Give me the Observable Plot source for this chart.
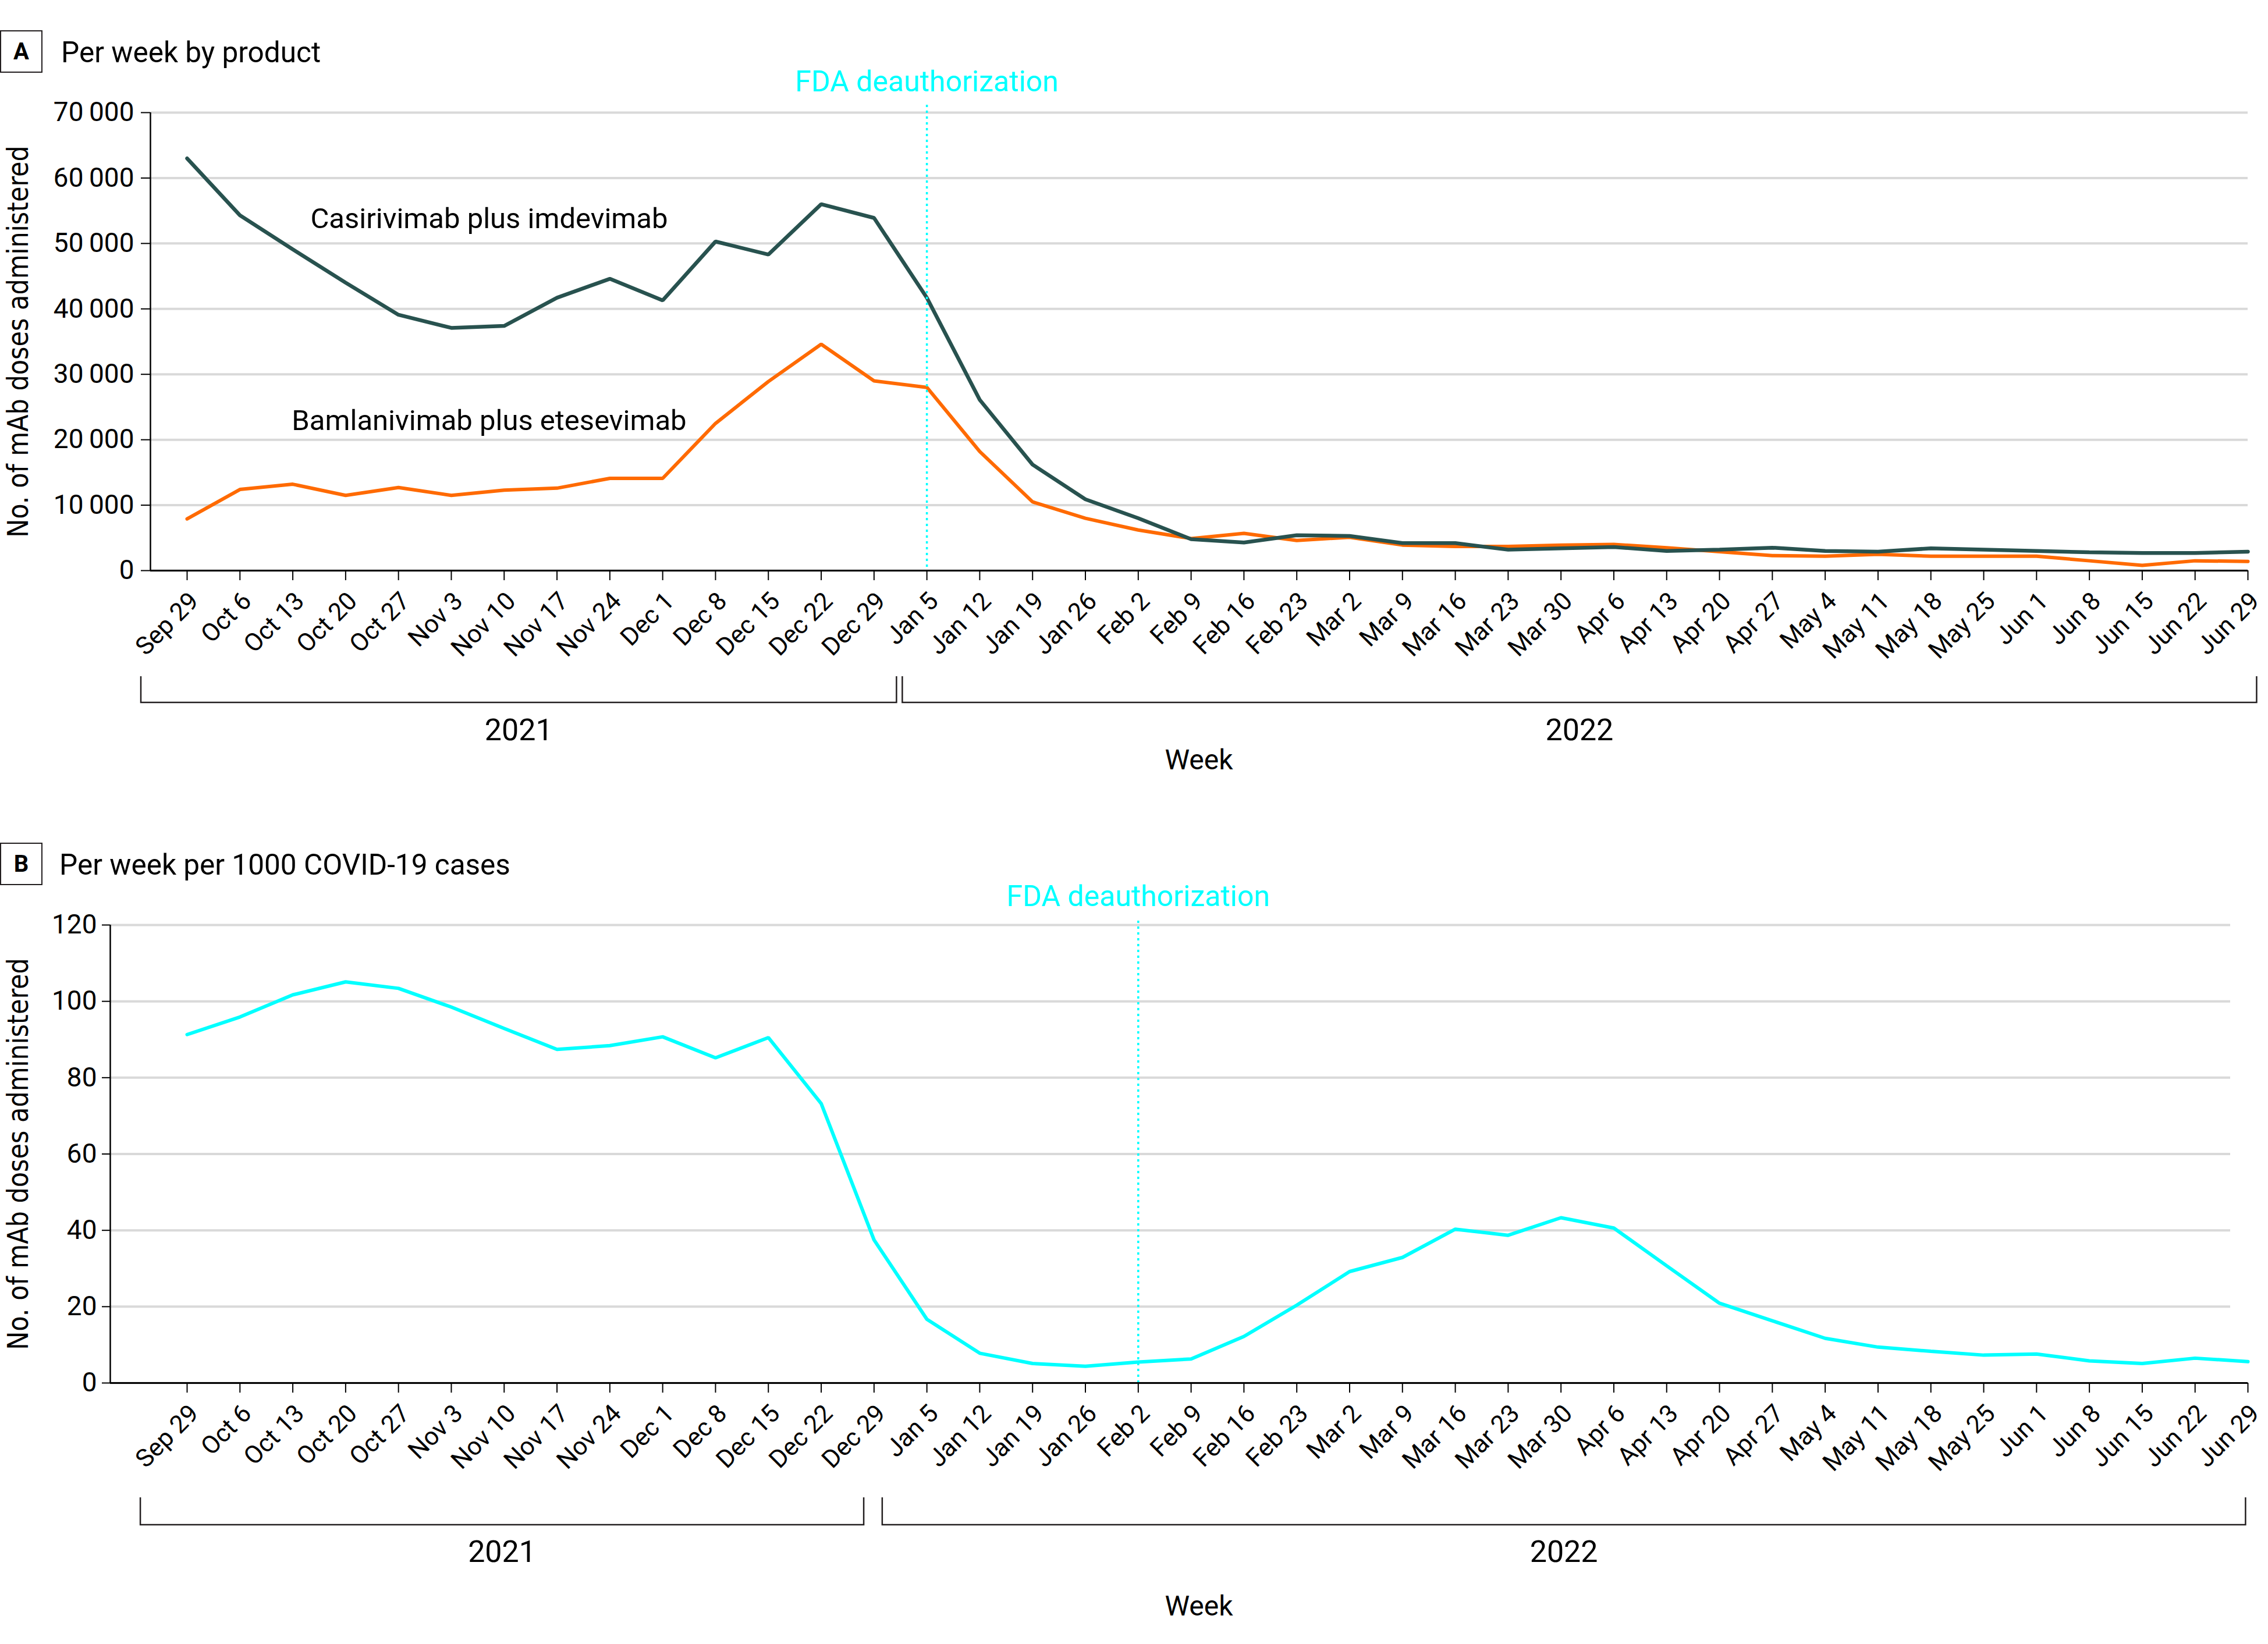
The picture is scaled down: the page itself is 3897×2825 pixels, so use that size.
<!DOCTYPE html>
<html>
<head>
<meta charset="utf-8">
<script src="https://cdn.jsdelivr.net/npm/d3@7"></script>
<script src="https://cdn.jsdelivr.net/npm/@observablehq/plot@0.6"></script>
<style>
  html, body { margin: 0; padding: 0; background: #fff; }
  body { width: 3897px; height: 2825px; position: relative; overflow: hidden; font-family: Roboto, "Noto Sans", sans-serif; color: #000; }
  .panel { position: absolute; left: 0; z-index: 1; }
  .tag { position: absolute; left: 0; width: 69px; height: 69px; border: 2px solid #231f20; font: bold 40px Roboto, sans-serif;
         display: flex; align-items: center; justify-content: center; z-index: 2; background: #fff; }
  .title { position: absolute; font-size: 49.5px; line-height: 49.5px; white-space: nowrap; z-index: 2; }
</style>
</head>
<body>
<div id="chartA" class="panel" style="top:0px"></div>
<div id="chartB" class="panel" style="top:1400px"></div>
<div class="tag" style="top:52px">A</div>
<div class="title" style="left:105px;top:66px">Per week by product</div>
<div class="tag" style="top:1448px">B</div>
<div class="title" style="left:102px;top:1462px">Per week per 1000 COVID-19 cases</div>
<script>
// ---------------- data ----------------
const weeks = ["Sep 29","Oct 6","Oct 13","Oct 20","Oct 27","Nov 3","Nov 10","Nov 17","Nov 24","Dec 1","Dec 8","Dec 15","Dec 22","Dec 29",
  "Jan 5","Jan 12","Jan 19","Jan 26","Feb 2","Feb 9","Feb 16","Feb 23","Mar 2","Mar 9","Mar 16","Mar 23","Mar 30",
  "Apr 6","Apr 13","Apr 20","Apr 27","May 4","May 11","May 18","May 25","Jun 1","Jun 8","Jun 15","Jun 22","Jun 29"];
const years = ["2021", "2022"];
const firstWeekOfSecondYear = "Jan 5";

const casirivimab = [63000,54300,49100,44000,39100,37100,37400,41700,44600,41300,50300,48300,56000,53900,
  41700,26100,16200,10900,8000,4800,4300,5400,5300,4200,4200,3200,3400,3600,3000,3200,3500,3000,2900,3400,3200,3000,2800,2700,2700,2900];
const bamlanivimab = [7900,12400,13200,11500,12700,11500,12300,12600,14100,14100,22500,28900,34600,29000,
  28000,18200,10500,8000,6200,4900,5700,4600,5100,3900,3700,3700,3900,4000,3500,2900,2300,2200,2500,2200,2200,2200,1500,800,1500,1400];
const perThousandCases = [91.3,95.9,101.7,105.1,103.4,98.5,92.9,87.4,88.4,90.7,85.2,90.5,73.2,37.5,
  16.7,7.8,5.1,4.4,5.5,6.3,12.2,20.4,29.2,32.9,40.3,38.7,43.3,40.6,30.7,20.9,16.3,11.7,9.4,8.3,7.3,7.6,5.8,5.1,6.5,5.6];

const seriesNames = ["Casirivimab plus imdevimab", "Bamlanivimab plus etesevimab"];
const seriesLabelWeek = ["Nov 3", "Nov 3"];
const seriesLabelValue = [52300, 21500];

const yTicksA = [0,10000,20000,30000,40000,50000,60000,70000];
const yTicksB = [0,20,40,60,80,100,120];
const fdaLabel = "FDA deauthorization";
const fdaWeekA = "Jan 5";
const fdaWeekB = "Feb 2";
const yTitle = "No. of mAb doses administered";
const xTitle = "Week";

// ---------------- styles ----------------
const W = 3897;
const FONT = "Roboto, 'Noto Sans', sans-serif";
const DARK = "#28524f", ORANGE = "#ff6a00", CYAN = "#00ffff", GRID = "#d9d9d9", INK = "#000";
const firstTickX = 321, lastTickX = 3862;
const step = (lastTickX - firstTickX) / (weeks.length - 1);
const idx = weeks.map((_, i) => i);
const fmtThin = d => d3.format(",")(d).replace(",", "\u2009");
const yearOf = i => i < weeks.indexOf(firstWeekOfSecondYear) ? years[0] : years[1];

function makePanel(cfg) {
  const xDomain = [-(firstTickX - cfg.marginLeft) / step, weeks.length - 1];
  const chart = Plot.plot({
    width: W, height: cfg.height,
    marginTop: cfg.marginTop, marginBottom: cfg.marginBottom, marginLeft: cfg.marginLeft, marginRight: W - lastTickX,
    style: {fontFamily: FONT, fontSize: "46px", color: INK, background: "transparent", overflow: "visible"},
    x: {type: "linear", domain: xDomain, label: null},
    y: {domain: cfg.yDomain, label: null},
    marks: [
      Plot.gridY(cfg.yTicks, {stroke: GRID, strokeWidth: 4, strokeOpacity: 1, insetRight: cfg.gridInsetRight}),
      ...cfg.lines.map(l => Plot.line(idx, {x: d => d, y: d => l.values[d], stroke: l.color, strokeWidth: l.width, strokeLinejoin: "miter"})),
      Plot.ruleX([weeks.indexOf(cfg.fdaWeek)], {stroke: CYAN, strokeWidth: 3.5, strokeDasharray: "4 6", insetTop: cfg.fdaInset}),
      Plot.text([fdaLabel], {x: () => weeks.indexOf(cfg.fdaWeek), text: d => d, frameAnchor: "top", textAnchor: "middle", lineAnchor: "bottom", dy: cfg.fdaDy, fill: CYAN, fontSize: 50}),
      ...(cfg.annotations ? [Plot.text(cfg.annotations, {x: d => weeks.indexOf(d.week), y: d => d.value, text: d => d.label, textAnchor: "middle", lineAnchor: "bottom", dx: 65, fontSize: 49, fill: INK})] : []),
      Plot.axisY({ticks: cfg.yTicks, tickSize: cfg.yTickSize, tickPadding: cfg.yTickPad, tickFormat: cfg.fmt, fontSize: 46, strokeWidth: 2}),
      Plot.ruleX([xDomain[0]], {stroke: INK, strokeWidth: 2.5}),
      Plot.ruleY([cfg.yDomain[0]], {stroke: INK, strokeWidth: 3}),
      Plot.axisX({ticks: idx, tickSize: 17, tickFormat: () => "", strokeWidth: 2}),
      Plot.text(idx, {x: d => d, text: d => weeks[d], frameAnchor: "bottom", rotate: -45, textAnchor: "end", lineAnchor: "bottom", dx: 22, dy: 55, fontSize: 43, fill: INK}),
      Plot.text([yTitle], {text: d => d, frameAnchor: "left", textAnchor: "middle", rotate: -90, lineAnchor: "bottom", dx: 47 - cfg.marginLeft, fontFamily: "'DejaVu Sans', Verdana, sans-serif", fontSize: 43, fill: INK})
    ]
  });
  // stretch y title glyphs perpendicular to the baseline
  d3.select(chart).selectAll("text").filter(function () { return this.textContent === yTitle; })
    .attr("transform", function () { return d3.select(this).attr("transform") + " scale(1,1.15)"; });

  // year brackets, year labels and axis title
  const x = chart.scale("x");
  const svg = d3.select(chart);
  const g = svg.append("g");
  years.forEach((yr, k) => {
    const members = idx.filter(i => yearOf(i) === yr);
    const from = x.apply(members[0] + cfg.bracketPad[k][0]);
    const to = x.apply(members[members.length - 1] + cfg.bracketPad[k][1]);
    g.append("path").attr("d", `M${from},${cfg.bracketTop}V${cfg.bracketBottom}H${to}V${cfg.bracketTop}`)
      .attr("fill", "none").attr("stroke", "#231f20").attr("stroke-width", 2.5);
    g.append("text").attr("x", (from + to) / 2).attr("y", cfg.yearBaseline).attr("text-anchor", "middle")
      .attr("font-family", FONT).attr("font-size", 52).attr("fill", INK).text(yr);
  });
  g.append("text").attr("x", (258 + lastTickX) / 2).attr("y", cfg.weekBaseline).attr("text-anchor", "middle")
    .attr("font-family", FONT).attr("font-size", 48).attr("fill", INK).text(xTitle);
  return chart;
}

const chartA = makePanel({
  height: 1400, marginTop: 193, marginBottom: 420, marginLeft: 258,
  yDomain: [0, 70000], yTicks: yTicksA, fmt: fmtThin, yTickSize: 16, yTickPad: 12, gridInsetRight: 0,
  lines: [{values: bamlanivimab, color: ORANGE, width: 6}, {values: casirivimab, color: DARK, width: 6.5}],
  fdaWeek: fdaWeekA, fdaDy: -37, fdaInset: -13,
  annotations: seriesNames.map((label, k) => ({label, week: seriesLabelWeek[k], value: seriesLabelValue[k]})),
  bracketPad: [[-0.87, 0.43], [-0.46, 0.17]], bracketTop: 1162, bracketBottom: 1207,
  yearBaseline: 1272, weekBaseline: 1322
});
document.getElementById("chartA").appendChild(chartA);

const chartB = makePanel({
  height: 1425, marginTop: 189, marginBottom: 449, marginLeft: 189,
  yDomain: [0, 120], yTicks: yTicksB, fmt: d => String(d), yTickSize: 14, yTickPad: 9, gridInsetRight: 30,
  lines: [{values: perThousandCases, color: CYAN, width: 6}],
  fdaWeek: fdaWeekB, fdaDy: -33, fdaInset: -7,
  annotations: null,
  bracketPad: [[-0.88, -0.19], [-0.84, -0.04]], bracketTop: 1173, bracketBottom: 1220,
  yearBaseline: 1284, weekBaseline: 1376
});
document.getElementById("chartB").appendChild(chartB);
</script>
</body>
</html>
